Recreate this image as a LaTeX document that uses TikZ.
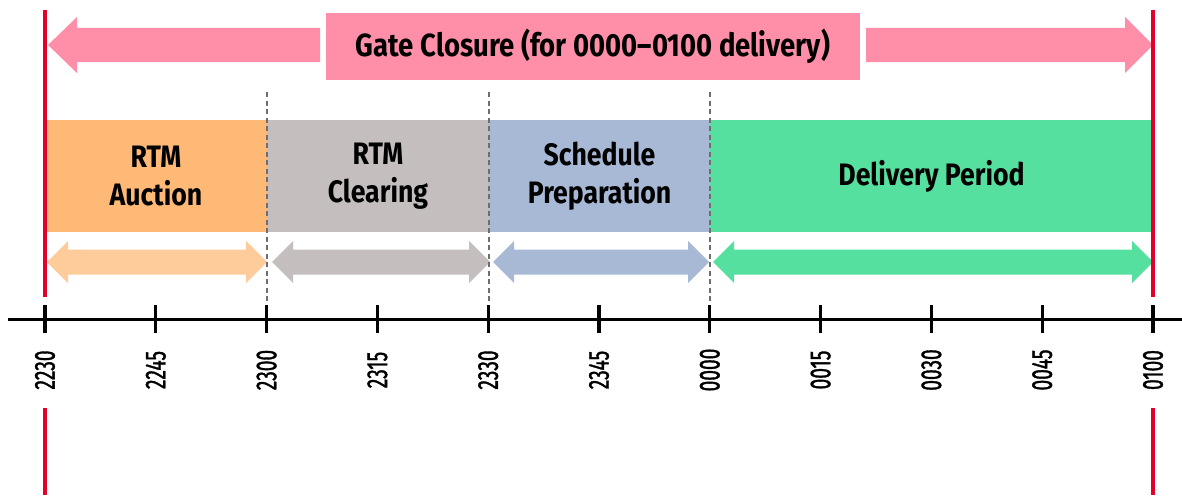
\documentclass[tikz,border=0pt]{standalone}
\usepackage{fontspec}
\setmainfont[FakeStretch=0.86]{Fira Sans}
\newfontfamily\tickfont[FakeStretch=0.66,FakeBold=1.2]{Fira Sans}
\usetikzlibrary{arrows.meta,calc,positioning}
\definecolor{gcpink}{HTML}{FF8FA8}
\definecolor{gcred}{HTML}{E4002B}
\definecolor{auctionorange}{HTML}{FDB975}
\definecolor{auctionlight}{HTML}{FECB9A}
\definecolor{clearinggrey}{HTML}{C4BEBE}
\definecolor{prepblue}{HTML}{A8B9D6}
\definecolor{deliverygreen}{HTML}{55E09F}
\definecolor{guidegrey}{HTML}{6E6E6E}

\begin{document}
\begin{tikzpicture}[x=1pt,y=-1pt,
  phase/.style={inner sep=0pt,minimum height=112pt,align=center,
    font=\fontsize{31}{38}\selectfont\bfseries},
  ticklabel/.style={rotate=90,inner sep=0pt,font=\tickfont\fontsize{29}{29}\selectfont},
  guide/.style={guidegrey,line width=2pt,dash pattern=on 5pt off 3.5pt},
  limit/.style={gcred,line width=3.4pt}]
\path[use as bounding box] (0,0) rectangle (1182,495);
\fill[white] (0,0) rectangle (1182,495);
% gate closure banner
\node[fill=gcpink,minimum width=534pt,minimum height=67pt,inner sep=0pt,
  font=\fontsize{32}{38}\selectfont\bfseries] (gate) at (593,46.5)
  {Gate Closure (for 0000--0100 delivery)};
\fill[gcpink] (48,45) -- (77,17) -- (77,28) -- (320,28) -- (320,62) -- (77,62) -- (77,73) -- cycle;
\fill[gcpink] (1153,45) -- (1125,17) -- (1125,28) -- (866,28) -- (866,62) -- (1125,62) -- (1125,73) -- cycle;
% phases
\node[phase,fill=auctionorange,minimum width=222pt] (auction) at (156,176) {RTM\\Auction};
\node[phase,fill=clearinggrey,minimum width=222pt] (clearing) at (378,176) {RTM\\Clearing};
\node[phase,fill=prepblue,minimum width=221pt] (prep) at (599.5,176) {Schedule\\Preparation};
\node[phase,fill=deliverygreen,minimum width=443pt] (delivery) at (931.5,176) {\raisebox{-4pt}{Delivery Period}};
% duration arrows
\foreach \l/\r/\c in {47/267/auctionlight,272/490/clearinggrey,493/709/prepblue,713/1153/deliverygreen}
  \fill[\c] (\l,262) -- (\l+21,241) -- (\l+21,249.5) -- (\r-21,249.5) -- (\r-21,241) -- (\r,262)
    -- (\r-21,283) -- (\r-21,274.5) -- (\l+21,274.5) -- (\l+21,283) -- cycle;
% phase boundaries
\foreach \x in {267,489,710}
  \draw[guide] (\x,92) -- (\x,319);
% time axis
\draw[line width=3.6pt] (8,319.5) -- (1182,319.5);
\foreach \lab [count=\i from 0] in {2230,2245,2300,2315,2330,2345,0000,0015,0030,0045,0100} {
  \pgfmathsetmacro\tx{45+110.8*\i}
  \draw[line width=3.2pt] (\tx,305) -- (\tx,333);
  \node[ticklabel] (t\i) at (\tx,370) {\lab};
}
% gate limits
\draw[limit] (45,10) -- (45,297);
\draw[limit] (45,408) -- (45,495);
\draw[limit] (1153,10) -- (1153,297);
\draw[limit] (1153,408) -- (1153,495);
\end{tikzpicture}
\end{document}
